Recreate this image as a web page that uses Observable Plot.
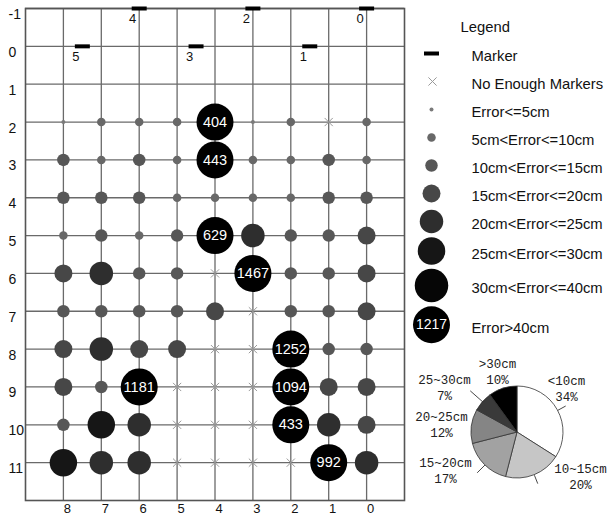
<!DOCTYPE html>
<html><head><meta charset="utf-8">
<script src="https://cdn.jsdelivr.net/npm/d3@7"></script>
<script src="https://cdn.jsdelivr.net/npm/@observablehq/plot@0.6"></script>
<style>
html,body{margin:0;padding:0;background:#fff;}
#wrap{position:relative;width:608px;height:516px;overflow:hidden;background:#fff;}
#wrap > svg{position:absolute;max-width:none;}
</style></head><body><div id="wrap"></div>
<script>
// ---------------- DATA ----------------
const rows = [2, 3, 4, 5, 6, 7, 8, 9, 10, 11];
const cols = [8, 7, 6, 5, 4, 3, 2, 1, 0];
const yTicks = [-1, 0, 1, 2, 3, 4, 5, 6, 7, 8, 9, 10, 11];
const xTicks = [8, 7, 6, 5, 4, 3, 2, 1, 0];
// error class per cell (1: <=5cm ... 7: 30-40cm, 8: >40cm), 0 = not enough markers
const errorClass = [
  [1, 2, 2, 2, 8, 1, 2, 0, 2],
  [3, 2, 3, 2, 8, 2, 2, 3, 2],
  [3, 3, 3, 2, 2, 2, 2, 3, 3],
  [2, 3, 2, 3, 8, 5, 3, 3, 4],
  [4, 5, 3, 3, 0, 8, 3, 3, 4],
  [3, 3, 3, 3, 4, 0, 3, 3, 4],
  [4, 5, 4, 4, 0, 0, 8, 3, 3],
  [4, 3, 8, 0, 0, 0, 8, 4, 4],
  [3, 6, 5, 0, 0, 0, 8, 5, 4],
  [6, 5, 5, 0, 0, 0, 0, 8, 5]
];
const bigRow = [2, 3, 5, 6, 8, 9, 9, 10, 11];
const bigCol = [4, 4, 4, 3, 2, 6, 2, 2, 1];
const bigValue = [404, 443, 629, 1467, 1252, 1181, 1094, 433, 992];
const markerId = [5, 4, 3, 2, 1, 0];
const markerCol = [7.5, 6, 4.5, 3, 1.5, 0];
const markerRow = [0, -1, 0, -1, 0, -1];
const legendTitle = "Legend";
const legendLabels = ["Marker", "No Enough Markers", "Error<=5cm", "5cm<Error<=10cm", "10cm<Error<=15cm",
  "15cm<Error<=20cm", "20cm<Error<=25cm", "25cm<Error<=30cm", "30cm<Error<=40cm", "Error>40cm"];
const legendSample = "1217";
const pieLabels = ["<10cm", "10~15cm", "15~20cm", "20~25cm", "25~30cm", ">30cm"];
const piePercent = [34, 20, 17, 12, 7, 10];

// ---------------- STYLE ----------------
const FONT = "'Liberation Sans', Arial, Helvetica, sans-serif";
const MONO = "'Liberation Mono', 'Courier New', monospace";
const radius = [0, 2, 4.25, 6.25, 9, 11.75, 13.75, 16.75, 18.5];
const shade = [null, "#7a7a7a", "#686868", "#575757", "#474747", "#2e2e2e", "#161616", "#060606", "#000000"];
const pieFill = ["#ffffff", "#c6c6c6", "#a2a2a2", "#858585", "#3a3a3a", "#000000"];
const pieLabelOffset = [[49, -43.5], [63, 44], [-72, 38], [-76, -8], [-73, -45], [-20, -60.5]];
const leaderLen = [9, 9, 11, 0, 17, 0];
const PIE_R = 46, PIE_CX = 112, PIE_CY = 82;
const gridColor = "#6a6a6a";
const barSymbol = {draw(ctx) {ctx.moveTo(-7.5, -2); ctx.lineTo(7.5, -2); ctx.lineTo(7.5, 2); ctx.lineTo(-7.5, 2); ctx.closePath();}};

// ---------------- TABLES ----------------
const cells = rows.flatMap((r, i) => cols.map((c, j) => ({row: r, col: c, cls: errorClass[i][j]})));
const big = bigValue.map((v, i) => ({row: bigRow[i], col: bigCol[i], value: v}));
const markers = markerId.map((id, i) => ({id, col: markerCol[i], row: markerRow[i]}));

const wrap = document.getElementById("wrap");

// ---------------- MAIN GRID ----------------
const main = Plot.plot({
  width: 420, height: 516,
  marginLeft: 25, marginRight: 16, marginTop: 8, marginBottom: 16,
  style: {fontFamily: FONT, background: "transparent", overflow: "visible"},
  x: {domain: [9, -1], axis: null},
  y: {domain: [-1, 12], reverse: true, axis: null},
  r: {type: "identity"},
  marks: [
    Plot.ruleY(yTicks, {stroke: gridColor, strokeWidth: 1.3}),
    Plot.ruleX(cols, {stroke: gridColor, strokeWidth: 1.3}),
    Plot.frame({stroke: "#555", strokeWidth: 1.6}),
    Plot.dot(cells.filter(d => d.cls === 0), {x: "col", y: "row", symbol: "times", r: 3.8, stroke: "#9a9a9a", strokeWidth: 1}),
    Plot.dot(cells.filter(d => d.cls > 0), {x: "col", y: "row", r: d => radius[d.cls], fill: d => shade[d.cls], stroke: "none"}),
    Plot.text(big, {x: "col", y: "row", text: d => String(d.value), fill: "white", fontSize: 14.5}),
    Plot.dot(markers, {x: "col", y: "row", symbol: barSymbol, r: 3, fill: "black", stroke: "none"}),
    Plot.text(markers, {x: "col", y: "row", text: d => String(d.id), dx: -6.5, dy: 10, fontSize: 13, fill: "#111"}),
    Plot.text(yTicks, {y: d => d, text: d => String(d), frameAnchor: "left", textAnchor: "start", lineAnchor: "middle", dx: -17, dy: 6, fontSize: 14, fill: "#111"}),
    Plot.text(xTicks, {x: d => d, text: d => String(d), frameAnchor: "bottom", textAnchor: "middle", lineAnchor: "middle", dx: 4, dy: 8.5, fontSize: 13, fill: "#111"})
  ]
});
main.style.left = "0px"; main.style.top = "0px";
wrap.appendChild(main);

// ---------------- LEGEND ----------------
const legendR = [2, 4, ...radius.slice(1)];
const legendY = [53];
for (let i = 1; i < legendLabels.length; i++) legendY.push(legendY[i - 1] + Math.max(28, legendR[i - 1] + legendR[i] + 4));
const legendItems = legendLabels.map((label, i) => ({label, i, y: legendY[i]}));
const legend = Plot.plot({
  width: 203, height: 350, margin: 0,
  style: {fontFamily: FONT, background: "transparent", overflow: "visible"},
  x: {type: "identity", axis: null}, y: {type: "identity", axis: null}, r: {type: "identity"},
  marks: [
    Plot.text([legendTitle], {frameAnchor: "top-left", textAnchor: "start", lineAnchor: "middle", dx: 55, dy: 27, fontSize: 14.8, fill: "#111"}),
    Plot.dot(legendItems.filter(d => d.i === 0), {y: "y", frameAnchor: "left", dx: 26, symbol: barSymbol, r: 3, fill: "black", stroke: "none"}),
    Plot.dot(legendItems.filter(d => d.i === 1), {y: "y", frameAnchor: "left", dx: 27, symbol: "times", r: 3.8, stroke: "#9a9a9a", strokeWidth: 1}),
    Plot.dot(legendItems.filter(d => d.i >= 2), {y: "y", frameAnchor: "left", dx: 26, r: d => radius[d.i - 1], fill: d => shade[d.i - 1], stroke: "none"}),
    Plot.text(legendItems.filter(d => d.i === 9), {y: "y", frameAnchor: "left", textAnchor: "middle", dx: 26, text: () => legendSample, fill: "white", fontSize: 14}),
    Plot.text(legendItems, {y: "y", frameAnchor: "left", dx: 66, dy: 3, text: "label", textAnchor: "start", fontSize: 14.8, fill: "#111"})
  ]
});
legend.style.left = "405px"; legend.style.top = "0px";
wrap.appendChild(legend);

// ---------------- PIE ----------------
const arcs = d3.pie().sort(null).value(d => d)(piePercent);
const pieRows = arcs.map((a, i) => {
  const mid = (a.startAngle + a.endAngle) / 2;
  const len = leaderLen[i];
  return {
    name: pieLabels[i], pct: piePercent[i] + "%",
    lx: PIE_CX + pieLabelOffset[i][0], ly: PIE_CY + pieLabelOffset[i][1],
    x1: PIE_CX + PIE_R * Math.sin(mid), y1: PIE_CY - PIE_R * Math.cos(mid),
    x2: PIE_CX + (PIE_R + len) * Math.sin(mid), y2: PIE_CY - (PIE_R + len) * Math.cos(mid),
    len
  };
});
function pieMark() {
  const arc = d3.arc().innerRadius(0).outerRadius(PIE_R);
  const g = d3.create("svg:g").attr("transform", `translate(${PIE_CX},${PIE_CY})`);
  g.selectAll("path").data(arcs).join("path")
    .attr("d", arc).attr("fill", (d, i) => pieFill[i])
    .attr("stroke", "#333").attr("stroke-width", 0.8);
  return g.node();
}
const pie = Plot.plot({
  width: 203, height: 166, margin: 0,
  style: {fontFamily: MONO, background: "transparent", overflow: "visible"},
  x: {type: "identity", axis: null}, y: {type: "identity", axis: null},
  marks: [
    pieMark,
    Plot.link(pieRows.filter(d => d.len > 0), {x1: "x1", y1: "y1", x2: "x2", y2: "y2", stroke: "#333", strokeWidth: 0.9}),
    Plot.text(pieRows, {x: "lx", y: "ly", text: "name", dy: -8, fontSize: 12.5, fill: "#222", fontFamily: MONO}),
    Plot.text(pieRows, {x: "lx", y: "ly", text: "pct", dy: 8, fontSize: 12.5, fill: "#222", fontFamily: MONO})
  ]
});
pie.style.left = "405px"; pie.style.top = "350px";
wrap.appendChild(pie);
</script></body></html>
